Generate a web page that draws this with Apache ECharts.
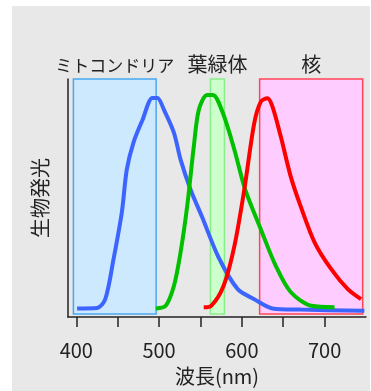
<!DOCTYPE html>
<html>
<head>
<meta charset="utf-8">
<script src="https://cdn.jsdelivr.net/npm/echarts@6/dist/echarts.min.js"></script>
<style>
html,body{margin:0;padding:0;background:#fff;}
#bg{position:absolute;left:12px;top:6px;width:358px;height:385px;background:#e8e8e8;}
#c{position:absolute;left:0;top:0;width:371px;height:391px;}
</style>
</head>
<body>
<div id="bg"></div>
<div id="c"></div>
<script>
// wavelength (nm) / luminescence (relative)
const blueX = [401, 425, 435, 445, 455, 461, 469, 480, 492, 498, 506, 518, 526, 538, 552, 572, 595, 615, 637, 671, 748];
const blueY = [3.6, 3.8, 7.5, 24.3, 43.9, 61.9, 73.2, 82.8, 92, 92, 87, 77.4, 66.1, 53.6, 42, 25, 11.7, 7.5, 3.6, 3.1, 2.6];
const greenX = [496, 508, 518, 526, 534, 542, 548, 558, 565, 577, 591, 604, 623, 641, 659, 684, 712];
const greenY = [3.6, 4.7, 13.1, 27.2, 46.6, 71.7, 87, 93.3, 93.3, 85.8, 70.3, 53.6, 36.8, 21.5, 10.5, 4.7, 4.1];
const redX = [554, 563, 578, 591, 603, 615, 623, 631, 637, 647, 659, 671, 688, 708, 728, 744];
const redY = [4.1, 4.7, 13.1, 29.8, 53.6, 81.5, 90.5, 91.9, 88.4, 75.9, 59.1, 46.6, 31.3, 20.1, 11.7, 7.5];
const regionNames = ['ミトコンドリア', '葉緑体', '核'];
const regionFrom = [396.5, 562, 621.5];
const regionTo = [496.5, 579, 746];
const xTicks = [400, 450, 500, 550, 600, 650, 700];
const xLabels = [400, 500, 600, 700];
const xName = '波長(nm)';
const yName = '生物発光';

const FONT = '"Noto Sans CJK JP", sans-serif';
const pair = (xs, ys) => xs.map((x, i) => [x, ys[i]]);
const regionStyles = [
  {fill: '#cce9fd', border: '#4aa8f0', size: 17},
  {fill: '#ccffcc', border: '#88ee88', size: 20},
  {fill: '#ffccff', border: '#ff4455', size: 20}
];
const chart = echarts.init(document.getElementById('c'), null, {renderer: 'canvas'});
chart.setOption({
  animation: false,
  backgroundColor: 'transparent',
  grid: {left: 68, top: 79, right: 5, bottom: 73},
  xAxis: {
    type: 'value', min: 390, max: 750,
    name: xName, nameLocation: 'middle', nameGap: 49,
    nameTextStyle: {fontFamily: FONT, fontSize: 20, color: '#222'},
    axisLine: {show: true, lineStyle: {color: '#222', width: 1.5}},
    axisTick: {show: true, length: 10, customValues: xTicks, lineStyle: {color: '#222', width: 1.5}},
    axisLabel: {customValues: xLabels, margin: 23, fontFamily: FONT, fontSize: 20, color: '#222'},
    splitLine: {show: false}
  },
  yAxis: {
    type: 'value', min: 0, max: 100,
    name: yName, nameLocation: 'middle', nameGap: 18, nameRotate: 90,
    nameTextStyle: {fontFamily: FONT, fontSize: 20, color: '#222'},
    axisLine: {show: true, lineStyle: {color: '#222', width: 1.5}},
    axisTick: {show: false}, axisLabel: {show: false}, splitLine: {show: false}
  },
  series: [
    {
      type: 'line', data: [], silent: true,
      markArea: {
        silent: true,
        data: regionNames.map((n, i) => [
          {name: n, xAxis: regionFrom[i], yAxis: 1.3,
           itemStyle: {color: regionStyles[i].fill, borderColor: regionStyles[i].border, borderWidth: 1.5},
           label: {show: true, position: 'top', distance: 4, fontFamily: FONT, fontSize: regionStyles[i].size, color: '#222'}},
          {xAxis: regionTo[i], yAxis: 100}
        ])
      }
    },
    {type: 'line', data: pair(blueX, blueY), smooth: 0.3, showSymbol: false, lineStyle: {color: '#3c64ff', width: 4}},
    {type: 'line', data: pair(greenX, greenY), smooth: 0.3, showSymbol: false, lineStyle: {color: '#00c000', width: 4}},
    {type: 'line', data: pair(redX, redY), smooth: 0.3, showSymbol: false, lineStyle: {color: '#ff0000', width: 4}}
  ]
});
</script>
</body>
</html>
